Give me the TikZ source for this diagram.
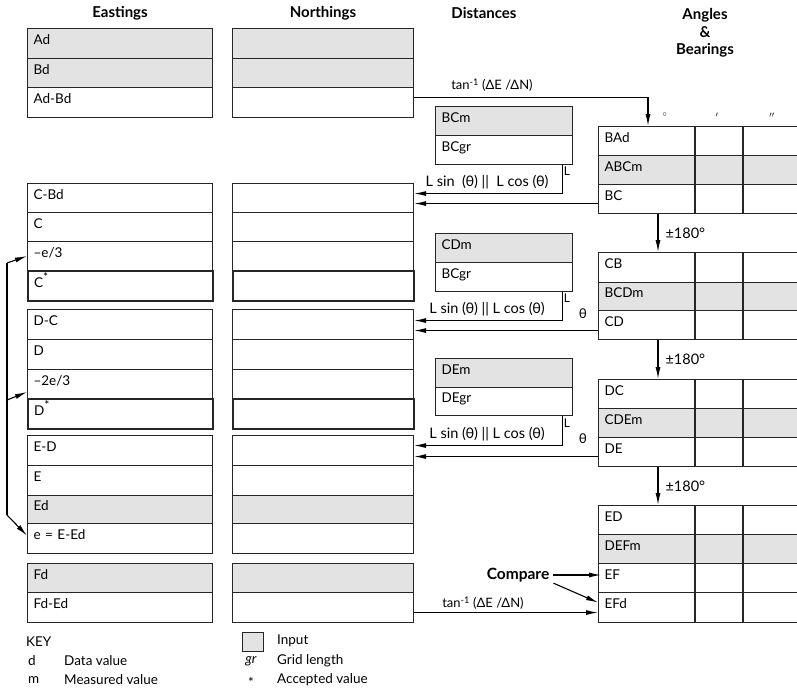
\documentclass[tikz,border=0pt]{standalone}
\usepackage{fontspec}
\setmainfont{Lato}
\usetikzlibrary{arrows.meta}
\newcommand{\accmark}{\textsuperscript{\fontsize{12}{12}\selectfont *}}
\begin{document}
\begin{tikzpicture}[x=1pt,y=-1pt,
 cell/.style={draw=black!85, line width=1.1pt, anchor=north west, inner xsep=6pt, inner ysep=0pt, align=left, text height=8pt, text depth=6pt, font=\fontsize{13.5}{15}\selectfont},
 ecol/.style={cell, text width=173pt},
 ncol/.style={cell, text width=169pt},
 dcol/.style={cell, text width=125pt},
 acol/.style={cell, text width=195pt},
 inp/.style={fill=black!11},
 accepted/.style={line width=2.4pt},
 conn/.style={draw=black, line width=1.1pt},
 arr/.style={conn, -{Latex[length=12pt,width=5pt]}},
 lbl/.style={font=\fontsize{13.5}{15}\selectfont, inner sep=1pt},
 lenlbl/.style={font=\fontsize{14.5}{16}\selectfont, inner sep=1pt},
 tanlbl/.style={font=\fontsize{13}{15}\selectfont, inner sep=1pt},
 small/.style={font=\fontsize{12}{14}\selectfont, inner sep=1pt},
 hdr/.style={font=\bfseries\fontsize{15}{17.5}\selectfont, align=center, inner sep=1pt},
]
\useasboundingbox (0,0) rectangle (797,691);

% headers
\node[hdr] (hE) at (120,13) {Eastings};
\node[hdr] (hN) at (323,13) {Northings};
\node[hdr] (hD) at (484,13) {Distances};
\node[hdr] (hA) at (705,33) {Angles\\\&\\Bearings};

% Eastings column
\node[ecol,inp,minimum height=30pt] (Ad) at (27,28) {Ad};
\node[ecol,inp,minimum height=29pt] (Bd) at (27,58) {Bd};
\node[ecol,minimum height=30pt] (AdBd) at (27,87) {Ad-Bd};
\node[ecol,minimum height=29pt] (CBd) at (27,183) {C-Bd};
\node[ecol,minimum height=29pt] (C) at (27,212) {C};
\node[ecol,minimum height=29pt] (me3) at (27,241) {–e/3};
\node[ecol,accepted,minimum height=30pt] (Cs) at (27,270) {C\accmark};
\node[ecol,minimum height=30pt] (DC) at (27,309) {D-C};
\node[ecol,minimum height=30pt] (D) at (27,339) {D};
\node[ecol,minimum height=29pt] (m2e3) at (27,369) {–2e/3};
\node[ecol,accepted,minimum height=30pt] (Ds) at (27,398) {D\accmark};
\node[ecol,minimum height=30pt] (ED) at (27,435) {E-D};
\node[ecol,minimum height=30pt] (E) at (27,465) {E};
\node[ecol,inp,minimum height=28pt] (Ed) at (27,495) {Ed};
\node[ecol,minimum height=30pt] (e) at (27,523) {e = E-Ed};
\node[ecol,inp,minimum height=29pt] (Fd) at (27,563) {Fd};
\node[ecol,minimum height=30pt] (FdEd) at (27,592) {Fd-Ed};

% Northings column
\node[ncol,inp,minimum height=30pt] (nAd) at (232,28) {};
\node[ncol,inp,minimum height=29pt] (nBd) at (232,58) {};
\node[ncol,minimum height=30pt] (nAdBd) at (232,87) {};
\node[ncol,minimum height=29pt] (nCBd) at (232,183) {};
\node[ncol,minimum height=29pt] (nC) at (232,212) {};
\node[ncol,minimum height=29pt] (nme3) at (232,241) {};
\node[ncol,accepted,minimum height=30pt] (nCs) at (232,270) {};
\node[ncol,minimum height=30pt] (nDC) at (232,309) {};
\node[ncol,minimum height=30pt] (nD) at (232,339) {};
\node[ncol,minimum height=29pt] (nm2e3) at (232,369) {};
\node[ncol,accepted,minimum height=30pt] (nDs) at (232,398) {};
\node[ncol,minimum height=30pt] (nED) at (232,435) {};
\node[ncol,minimum height=30pt] (nE) at (232,465) {};
\node[ncol,inp,minimum height=28pt] (nEd) at (232,495) {};
\node[ncol,minimum height=30pt] (ne) at (232,523) {};
\node[ncol,inp,minimum height=29pt] (nFd) at (232,563) {};
\node[ncol,minimum height=30pt] (nFdEd) at (232,592) {};

% Distances
\node[dcol,inp,minimum height=29pt] (BCm) at (435,106) {BCm};
\node[dcol,minimum height=29pt] (BCgr) at (435,135) {BCgr};
\node[dcol,inp,minimum height=29pt] (CDm) at (435,233) {CDm};
\node[dcol,minimum height=29pt] (BCgrB) at (435,262) {BCgr};
\node[dcol,inp,minimum height=29pt] (DEm) at (435,358) {DEm};
\node[dcol,minimum height=28pt] (DEgr) at (435,387) {DEgr};

% Angles & bearings
\node[acol,minimum height=29pt] (BAd) at (598,126) {BAd};
\node[acol,inp,minimum height=29pt] (ABCm) at (598,155) {ABCm};
\node[acol,minimum height=29pt] (BC) at (598,184) {BC};
\node[acol,minimum height=30pt] (CB) at (598,252) {CB};
\node[acol,inp,minimum height=28pt] (BCDm) at (598,282) {BCDm};
\node[acol,minimum height=29pt] (CD) at (598,310) {CD};
\node[acol,minimum height=29pt] (DCa) at (598,379) {DC};
\node[acol,inp,minimum height=29pt] (CDEm) at (598,408) {CDEm};
\node[acol,minimum height=29pt] (DE) at (598,437) {DE};
\node[acol,minimum height=29pt] (EDa) at (598,505) {ED};
\node[acol,inp,minimum height=29pt] (DEFm) at (598,534) {DEFm};
\node[acol,minimum height=29pt] (EF) at (598,563) {EF};
\node[acol,minimum height=30pt] (EFd) at (598,592) {EFd};

% column rules
\foreach \t/\b in {BAd/BC, CB/CD, DCa/DE, EDa/EFd}{
  \draw[conn,draw=black!85] ([xshift=97pt]\t.north west) -- ([xshift=97pt]\b.south west);
  \draw[conn,draw=black!85] ([xshift=145pt]\t.north west) -- ([xshift=145pt]\b.south west);
}
\node[small] (deg) at (665,117) {$^\circ$};
\node[small] (mnt) at (717,117) {$'$};
\node[small] (sec) at (772,117) {$''$};

% tan^-1 top
\draw[arr] ([yshift=5pt]nAdBd.east) -| ([xshift=50pt]BAd.north west);
\node[tanlbl] (tan1) at (492,85) {tan\textsuperscript{-1} (ΔE /ΔN)};

% distance group 1
\draw[arr] ([xshift=-11pt]BCgr.south east) |- ([yshift=4.5pt]nCBd.east);
\draw[arr] ([yshift=-4.5pt]BC.west) -- ([yshift=-4.5pt]BC.west -| nCBd.east);
\node[lenlbl] (ls1) at (487,182) {L sin\ \ (θ) ||\ \ L cos (θ)};
\node[small] (L1) at (567,171) {L};

% distance group 2
\draw[arr] ([xshift=-11pt]BCgrB.south east) |- ([yshift=4pt]nDC.east);
\draw[arr] ([yshift=-5.5pt]CD.west) -- ([yshift=-5.5pt]CD.west -| nDC.east);
\node[lenlbl] (ls2) at (487,309) {L sin (θ) || L cos (θ)};
\node[small] (L2) at (567,298) {L};
\node[lbl] (th2) at (583,314) {θ};

% distance group 3
\draw[arr] ([xshift=-11pt]DEgr.south east) |- ([yshift=5pt]nED.east);
\draw[arr] ([yshift=-4.5pt]DE.west) -- ([yshift=-4.5pt]DE.west -| nED.east);
\node[lenlbl] (ls3) at (487,434) {L sin (θ) || L cos (θ)};
\node[small] (L3) at (567,423) {L};
\node[lbl] (th3) at (583,439) {θ};

% +-180
\draw[arr] ([xshift=60pt]BC.south west) -- node[lenlbl,right=6pt] (pm1) {±180°} ([xshift=60pt]CB.north west);
\draw[arr] ([xshift=60pt]CD.south west) -- node[lenlbl,right=6pt] (pm2) {±180°} ([xshift=60pt]DCa.north west);
\draw[arr] ([xshift=60pt]DE.south west) -- node[lenlbl,right=6pt] (pm3) {±180°} ([xshift=60pt]EDa.north west);

% compare
\node[font=\bfseries\fontsize{15.5}{17}\selectfont, inner sep=1pt] (cmp) at (518,575) {Compare};
\draw[arr] ([xshift=3pt]cmp.east) -- ([xshift=3pt]cmp.east -| EF.west);
\draw[arr] ([xshift=3pt]cmp.south east) -- ([yshift=5pt]EFd.west);

% tan^-1 bottom
\draw[arr] ([yshift=-5pt]nFdEd.east) -- ([yshift=-5pt]nFdEd.east -| EFd.west);
\node[tanlbl] (tan2) at (483,603) {tan\textsuperscript{-1} (ΔE /ΔN)};

% closure distribution bracket
\coordinate (bt) at (7,263);
\coordinate (bm) at (7,400);
\coordinate (bb) at (7,515);
\draw[conn] (bt) -- (bb);
\draw[arr] (bt) -- (me3.west);
\draw[arr] (bm) -- ([yshift=-8pt]m2e3.west);
\draw[arr] (bb) -- ([yshift=3pt]e.west);

% key
\node[lbl, anchor=west] (key) at (25,642) {KEY};
\node[lbl, anchor=west] (kd) at (27,661) {d};
\node[lbl, anchor=west] (kdv) at (63,661) {Data value};
\node[lbl, anchor=west] (km) at (27,680) {m};
\node[lbl, anchor=west] (kmv) at (63,680) {Measured value};
\node[draw=black!85, fill=black!11, line width=1.1pt, minimum width=21pt, minimum height=19pt, anchor=north west, inner sep=0pt] (kbox) at (242,632) {};
\node[lbl, anchor=west] (kin) at (276,641) {Input};
\node[lbl] (kgr) at (251,661) {\itshape gr};
\node[lbl, anchor=west] (kgrv) at (276,661) {Grid length};
\node[lbl] (kst) at (251,682) {*};
\node[lbl, anchor=west] (kstv) at (276,680) {Accepted value};
\end{tikzpicture}
\end{document}
